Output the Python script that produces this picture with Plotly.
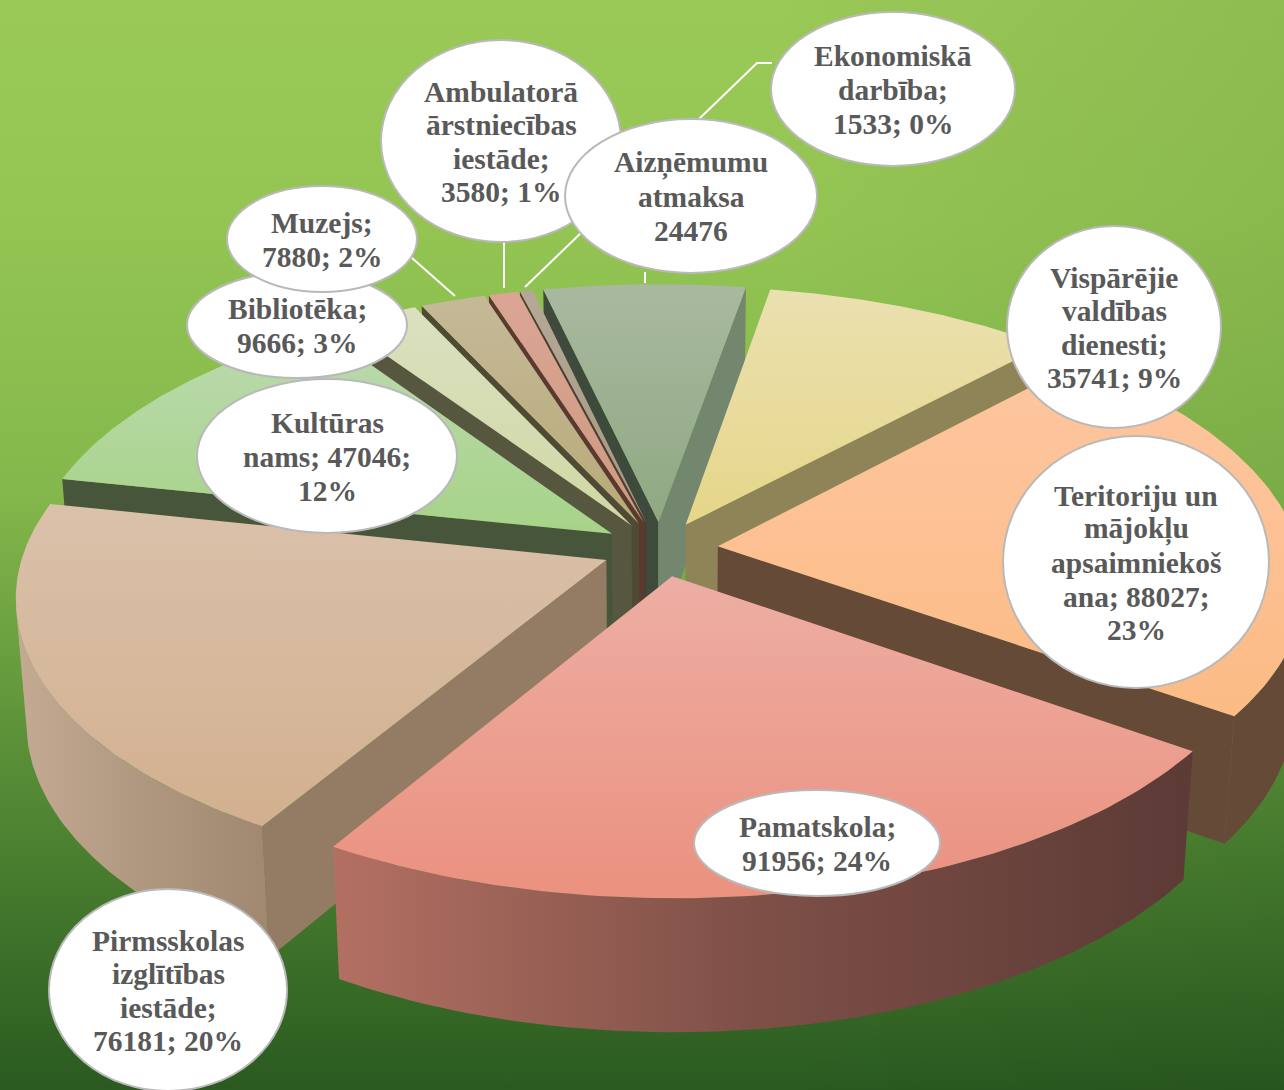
import numpy as np
import plotly.graph_objects as go

categories = ["Aizņēmumu atmaksa", "Vispārējie valdības dienesti", "Teritoriju un mājokļu apsaimniekošana",
              "Pamatskola", "Pirmsskolas izglītības iestāde", "Kultūras nams", "Bibliotēka", "Muzejs",
              "Ambulatorā ārstniecības iestāde", "Ekonomiskā darbība"]
values = [24476, 35741, 88027, 91956, 76181, 47046, 9666, 7880, 3580, 1533]
label_lines = [
    ["Aizņēmumu", "atmaksa", "24476"],
    ["Vispārējie", "valdības", "dienesti;", "35741; 9%"],
    ["Teritoriju un", "mājokļu", "apsaimniekoš", "ana; 88027;", "23%"],
    ["Pamatskola;", "91956; 24%"],
    ["Pirmsskolas", "izglītības", "iestāde;", "76181; 20%"],
    ["Kultūras", "nams; 47046;", "12%"],
    ["Bibliotēka;", "9666; 3%"],
    ["Muzejs;", "7880; 2%"],
    ["Ambulatorā", "ārstniecības", "iestāde;", "3580; 1%"],
    ["Ekonomiskā", "darbība;", "1533; 0%"],
]

# styles, per slice: top face (far, near), outer wall (left, middle, right), start edge wall, end edge wall
top_far = ["#a9b9a0", "#ebe0b0", "#fdc6a0", "#edaea3", "#dac1aa", "#bcdaaf", "#dbe0c0", "#c5b998", "#daa594", "#b5a898"]
top_near = ["#8fa882", "#e6d689", "#fcbb85", "#eb917f", "#d2b08f", "#a6d388", "#d0d8a5", "#b8aa78", "#cf9a80", "#a89880"]
wall_left = ["#7d8c75", "#8f8458", "#664a38", "#b37062", "#c4aa92", "#48553a", "#57573f", "#4f4a33", "#5a3a2e", "#4a3f30"]
wall_mid = ["#7d8c75", "#8f8458", "#654a37", "#7d4f47", "#b09780", "#48553a", "#57573f", "#4f4a33", "#5a3a2e", "#4a3f30"]
wall_right = ["#7d8c75", "#8f8458", "#644a36", "#5c3a36", "#a08870", "#48553a", "#57573f", "#4f4a33", "#5a3a2e", "#4a3f30"]
start_wall = ["#3e4a3c", "#8f8458", "#664a38", "#5f3a37", "#947c64", "#47553a", "#57573f", "#4f4a33", "#5a3a2e", "#4a3f30"]
end_wall = ["#73876f", "#8f8458", "#664a38", "#5f3a37", "#947c64", "#47553a", "#57573f", "#4f4a33", "#5a3a2e", "#4a3f30"]

# view settings
W, H_PX = 1284, 1090
CX, CY = 660, 549
START_DEG = -13.0
ELEV = np.radians(28.1)
DIST = 7.0
FOCAL = 582 * DIST
PULL = 0.10
THICK = 0.24
N_ARC = 80


def project(x, y, z):
    v = y * np.sin(ELEV) + z * np.cos(ELEV)
    w = -y * np.cos(ELEV) + z * np.sin(ELEV)
    s = FOCAL / (DIST - w)
    return CX + s * x, CY - s * v


def polygon(x, y, z, colors, kind):
    sx, sy = project(np.asarray(x), np.asarray(y), np.asarray(z))
    sx = np.append(sx, sx[0])
    sy = np.append(sy, sy[0])
    stops = np.linspace(0, 1, len(colors))
    return go.Scatter(
        x=sx, y=sy, mode="lines", line=dict(width=0), fill="toself", hoverinfo="skip",
        fillcolor=colors[0],
        fillgradient=dict(type=kind, colorscale=[[float(s), c] for s, c in zip(stops, colors)]),
        showlegend=False,
    )


traces = [
    go.Scatter(x=[0, W, W, 0, 0], y=[0, 0, H_PX, H_PX, 0], mode="lines", line=dict(width=0), fill="toself",
               hoverinfo="skip", showlegend=False, fillcolor="#6fa83f",
               fillgradient=dict(type="vertical", colorscale=[
                   [0, "#2a5a20"], [0.22, "#4a8030"], [0.55, "#84b84c"], [0.8, "#94c553"], [1, "#9ac957"]])),
    go.Scatter(x=[0, W, W, 0, 0], y=[0, 0, H_PX, H_PX, 0], mode="lines", line=dict(width=0), fill="toself",
               hoverinfo="skip", showlegend=False, fillcolor="rgba(0,0,0,0)",
               fillgradient=dict(type="horizontal", colorscale=[
                   [0, "rgba(0,0,0,0)"], [0.6, "rgba(0,0,0,0)"], [1, "rgba(0,20,0,0.07)"]])),
]

total = sum(values)
angles = START_DEG + np.cumsum([0] + values) / total * 360.0
cam = DIST * np.array([0, -np.cos(ELEV), np.sin(ELEV)])
mids = np.radians((angles[:-1] + angles[1:]) / 2)
order = np.argsort(-np.cos(mids))

for i in order:
    a0, a1 = np.radians(angles[i]), np.radians(angles[i + 1])
    ox, oy = PULL * np.sin(mids[i]), PULL * np.cos(mids[i])
    arc = np.linspace(a0, a1, N_ARC)
    ax, ay = ox + np.sin(arc), oy + np.cos(arc)

    # radial edge walls; only those that face the viewer
    for a, col, sign in ((a0, start_wall[i], 1), (a1, end_wall[i], -1)):
        ex, ey = ox + np.sin(a), oy + np.cos(a)
        xs, ys, zs = [ox, ex, ex, ox], [oy, ey, ey, oy], [0, 0, -THICK, -THICK]
        normal = np.array([-np.cos(a), np.sin(a), 0]) * sign
        if np.dot(normal, cam - np.array([ox, oy, 0])) > 0:
            traces.append(polygon(xs, ys, zs, (col, col), "horizontal"))

    # outer curved wall, the part that faces the viewer
    facing = np.sin(arc) * (cam[0] - ax) + np.cos(arc) * (cam[1] - ay) > 0
    if facing.sum() > 1:
        fx, fy = ax[facing], ay[facing]
        xs = np.r_[fx, fx[::-1]]
        ys = np.r_[fy, fy[::-1]]
        zs = np.r_[np.zeros(len(fx)), -THICK * np.ones(len(fx))]
        traces.append(polygon(xs, ys, zs, (wall_left[i], wall_mid[i], wall_right[i]), "horizontal"))

    # top face
    xs = np.r_[ox, ax]
    ys = np.r_[oy, ay]
    traces.append(polygon(xs, ys, np.zeros(len(xs)), (top_near[i], top_far[i]), "vertical"))

# callout layout: centre x, centre y, radius x, radius y (drawing order below)
bubbles = {
    6: (297, 325, 110, 53),
    7: (322, 239, 95, 53),
    8: (501, 141, 120, 101),
    9: (893, 89, 122, 77),
    0: (691, 196, 126, 77),
    1: (1114, 327, 107, 101),
    2: (1136, 562, 133, 126),
    3: (817, 843, 123, 53),
    4: (168, 990, 119, 101),
    5: (327, 456, 130, 77),
}
LINE_STEP = 33.6
leaders = [
    [(525, 287), (757, 63), (772, 63)],
    [(645, 272), (645, 283)],
    [(412, 258), (455, 296)],
    [(504, 240), (504, 288)],
]

shapes = []
for pts in leaders:
    path = "M " + " L ".join(f"{x},{y}" for x, y in pts)
    shapes.append(dict(type="path", path=path, line=dict(color="white", width=2), xref="x", yref="y"))
for k, (bx, by, rx, ry) in bubbles.items():
    shapes.append(dict(type="circle", x0=bx - rx, x1=bx + rx, y0=by - ry, y1=by + ry, xref="x", yref="y",
                       fillcolor="white", line=dict(color="#b9b9b9", width=2)))

annotations = []
for k, (bx, by, rx, ry) in bubbles.items():
    lines = label_lines[k]
    for j, t in enumerate(lines):
        annotations.append(dict(x=bx, y=by + 1 + (j - (len(lines) - 1) / 2) * LINE_STEP, text=f"<b>{t}</b>",
                                xref="x", yref="y", showarrow=False, xanchor="center", yanchor="middle",
                                font=dict(family="Liberation Serif", size=29.5, color="#595959")))

fig = go.Figure(traces)
fig.update_layout(
    width=W, height=H_PX, margin=dict(l=0, r=0, t=0, b=0), showlegend=False,
    paper_bgcolor="#6fa83f", plot_bgcolor="rgba(0,0,0,0)",
    xaxis=dict(range=[0, W], visible=False, fixedrange=True),
    yaxis=dict(range=[H_PX, 0], visible=False, fixedrange=True),
    shapes=shapes, annotations=annotations,
)
fig.write_html("out.html", config=dict(displayModeBar=False),
               post_script="document.body.style.margin='0';document.body.style.overflow='hidden';")
